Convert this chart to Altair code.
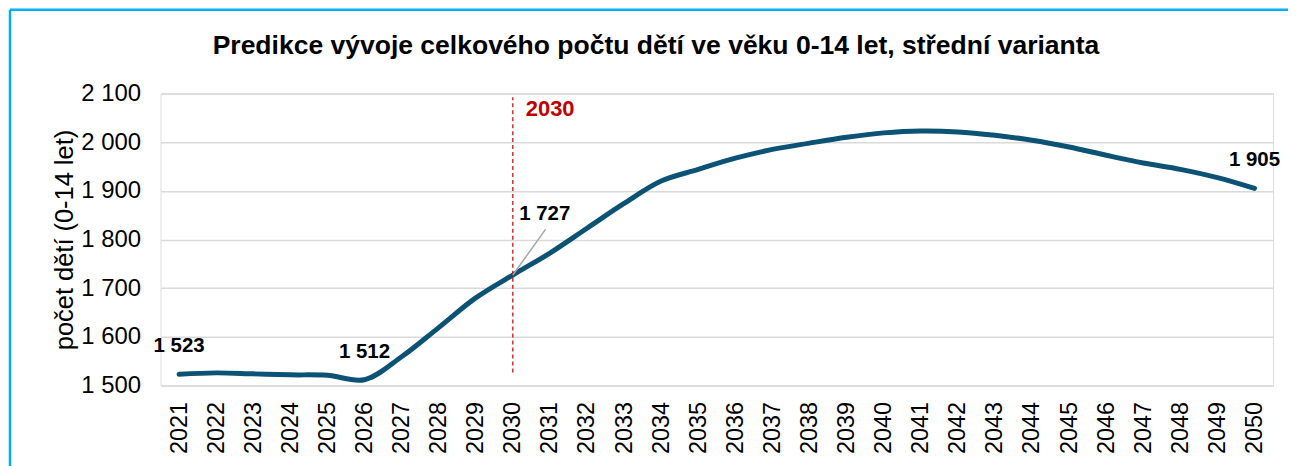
import altair as alt
import pandas as pd

years = list(range(2021, 2051))
children = [1523, 1526, 1524, 1522, 1521, 1512, 1559, 1619, 1680, 1727,
            1772, 1823, 1874, 1920, 1944, 1967, 1985, 1998, 2010, 2019,
            2023, 2021, 2014, 2004, 1990, 1973, 1957, 1944, 1927, 1905]
label_years = [2021, 2026, 2050]
highlight_year = 2030
highlight_text = "2030"
marker_range = [1527, 2092]

title_text = "Predikce vývoje celkového počtu dětí ve věku 0-14 let, střední varianta"
y_title = "počet dětí (0-14 let)"

df = pd.DataFrame({"year": years, "v": children})
df_lab = df[df["year"].isin(label_years)]
df_hl = df[df["year"] == highlight_year]
df_rule = pd.DataFrame({"year": [highlight_year], "y1": [marker_range[0]], "y2": [marker_range[1]],
                        "t": [highlight_text], "title": [title_text]})

FONT = "Liberation Sans"
fmt = "replace(format(datum.v, ','), ',', ' ')"

xenc = alt.X("year:O", scale=alt.Scale(type="point", padding=0.5),
             axis=alt.Axis(title=None, labelAngle=-90, labelFontSize=23.5, labelFont=FONT,
                           labelColor="#000000", ticks=False, domain=False, labelPadding=16,
                           grid=False))
yscale = alt.Scale(domain=[1500, 2100], nice=False, zero=False)
yenc = alt.Y("v:Q", scale=yscale,
             axis=alt.Axis(title=y_title, values=[1500, 1600, 1700, 1800, 1900, 2000, 2100],
                           labelExpr="replace(format(datum.value, ','), ',', ' ')",
                           labelFontSize=24, labelFont=FONT, labelColor="#000000",
                           ticks=False, domain=False, labelPadding=20,
                           gridColor="#D9D9D9", gridWidth=1.5,
                           titleFontSize=25.5, titleFont=FONT, titleFontWeight="normal",
                           titleColor="#000000", titleX=-96, titleY=146.5, titleAngle=-90,
                           titleAlign="center", titleBaseline="middle"))

base = alt.Chart(df)

line = base.mark_line(color="#0B5275", strokeWidth=5, interpolate="catmull-rom",
                      strokeCap="round").encode(x=xenc, y=yenc)

rule = alt.Chart(df_rule).mark_rule(color="#C00000", strokeDash=[4, 3], strokeWidth=1.2).encode(
    x="year:O", y=alt.Y("y1:Q", scale=yscale), y2="y2:Q")

hl_text = alt.Chart(df_rule).mark_text(color="#C00000", fontWeight="bold", fontSize=22,
                                       font=FONT, align="left", baseline="middle", dx=13).encode(
    x="year:O", y=alt.value(16), text="t:N")

labels = alt.Chart(df_lab).transform_calculate(t=fmt).mark_text(
    fontWeight="bold", fontSize=20.5, font=FONT, color="#000000", baseline="middle", dy=-28).encode(
    x="year:O", y=alt.Y("v:Q", scale=yscale), text="t:N")

leader = alt.Chart(df_hl).mark_rule(color="#A6A6A6", strokeWidth=1.5, x2Offset=33, y2Offset=-46).encode(
    x="year:O", y=alt.Y("v:Q", scale=yscale), x2="year:O", y2="v:Q")

hl_label = alt.Chart(df_hl).transform_calculate(t=fmt).mark_text(
    fontWeight="bold", fontSize=20.5, font=FONT, color="#000000", baseline="middle", dx=32, dy=-61).encode(
    x="year:O", y=alt.Y("v:Q", scale=yscale), text="t:N")

title = alt.Chart(df_rule).mark_text(fontWeight="bold", fontSize=26.6, font=FONT, color="#000000",
                                     align="center", baseline="middle").encode(
    x=alt.value(497), y=alt.value(-48), text="title:N")

border_top = alt.Chart(df_rule).mark_rule(color="#00B0F0", strokeWidth=2.5).encode(
    x=alt.value(-151), x2=alt.value(1300), y=alt.value(-84))
border_left = alt.Chart(df_rule).mark_rule(color="#00B0F0", strokeWidth=2.5).encode(
    x=alt.value(-151), y=alt.value(-84), y2=alt.value(500))

chart = alt.layer(line, rule, hl_text, leader, hl_label, labels, title, border_top, border_left).properties(
    width=1116, height=293,
    autosize=alt.AutoSizeParams(type="none"),
    padding={"left": 153, "top": 85, "right": 15, "bottom": 80},
).configure_view(stroke=None).configure(background="#FFFFFF")

chart.save("out.html", embed_options={"renderer": "svg", "actions": False})
